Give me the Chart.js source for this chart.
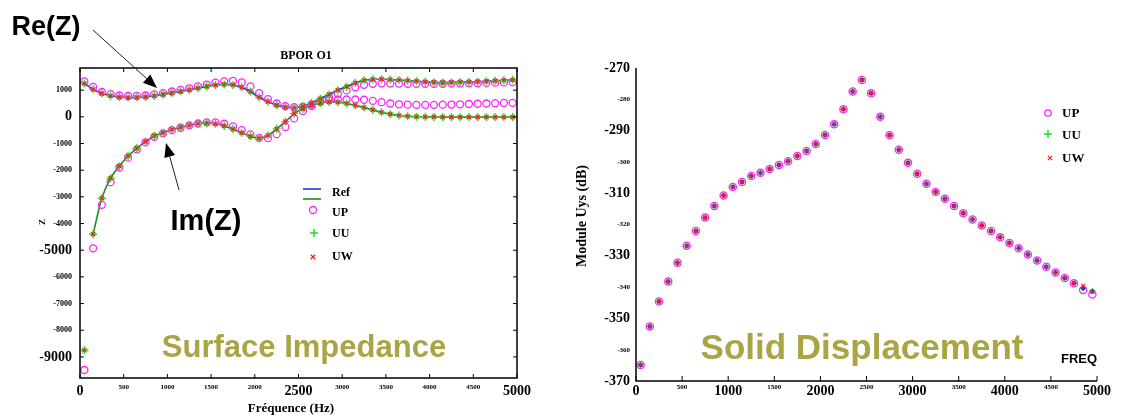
<!DOCTYPE html>
<html><head><meta charset="utf-8">
<script src="https://cdn.jsdelivr.net/npm/chart.js@4.4.1/dist/chart.umd.min.js"></script>
<style>
html,body{margin:0;padding:0;background:#fff;}
#wrap{position:relative;width:1136px;height:417px;overflow:hidden;background:#fff;}
canvas{position:absolute;top:0;}
.t{position:absolute;white-space:nowrap;line-height:1;transform:translate(-50%,-50%);}
.serif{font-family:"Liberation Serif","DejaVu Serif",serif;font-weight:bold;color:#000;}
.sans{font-family:"Liberation Sans",Arial,sans-serif;color:#000;}
</style></head><body>
<div id="wrap">
<canvas id="c1" width="560" height="417" style="left:0px"></canvas>
<canvas id="c2" width="576" height="417" style="left:560px"></canvas>
<div class="t sans" style="left:46px;top:26px;font-size:27px;font-weight:bold;">Re(Z)</div>
<div class="t sans" style="left:206px;top:220px;font-size:29px;font-weight:bold;">Im(Z)</div>
<div class="t serif" style="left:306px;top:55px;font-size:12px;">BPOR O1</div>
<div class="t serif" style="left:291px;top:407px;font-size:13px;">Fréquence (Hz)</div>
<div class="t serif" style="left:42px;top:222px;font-size:9px;transform:translate(-50%,-50%) rotate(-90deg);">Z</div>
<div class="t serif" style="left:582px;top:216px;font-size:14px;transform:translate(-50%,-50%) rotate(-90deg);">Module Uys (dB)</div>
<div class="t sans" style="left:1079px;top:358px;font-size:13px;font-weight:bold;">FREQ</div>
<div class="t sans" style="left:304px;top:346px;font-size:31px;font-weight:bold;color:#aaa444;">Surface Impedance</div>
<div class="t sans" style="left:862px;top:346px;font-size:35px;font-weight:bold;color:#aaa444;">Solid Displacement</div>
</div>
<script>
// ---------- DATA ----------
const freq = [50,150,250,350,450,550,650,750,850,950,
  1050,1150,1250,1350,1450,1550,1650,1750,1850,1950,
  2050,2150,2250,2350,2450,2550,2650,2750,2850,2950,
  3050,3150,3250,3350,3450,3550,3650,3750,3850,3950,
  4050,4150,4250,4350,4450,4550,4650,4750,4850,4950];

// Surface impedance, reference (Re, Im)
const reRef = [1250,1030,880,790,740,720,730,745,790,840,
  900,955,1015,1080,1140,1190,1215,1195,1105,940,
  735,570,440,365,340,400,520,680,840,1000,
  1130,1270,1370,1405,1410,1400,1380,1360,1335,1310,
  1290,1275,1285,1295,1305,1315,1330,1350,1370,1385];
const imRef = [-8750,-4400,-3050,-2300,-1850,-1470,-1180,-930,-720,-600,
  -475,-395,-315,-250,-230,-260,-340,-460,-600,-730,
  -810,-700,-450,-180,120,300,430,520,560,550,
  500,430,350,260,170,100,50,20,5,0,
  -5,-10,-10,-10,-10,-10,-10,-10,-10,-10];
// UP formulation
const reUP = [1330,1120,930,850,800,780,785,800,840,890,
  950,1010,1070,1140,1210,1280,1330,1350,1290,1140,
  890,660,500,400,360,380,460,580,720,860,
  990,1110,1200,1240,1250,1250,1245,1240,1240,1240,
  1240,1240,1245,1250,1255,1260,1270,1280,1290,1300];
const imUP = [-9490,-4930,-3300,-2450,-1900,-1530,-1220,-960,-750,-620,
  -500,-410,-320,-250,-210,-210,-260,-360,-500,-660,
  -790,-800,-650,-380,-60,220,400,560,620,650,
  650,650,640,600,550,500,470,455,450,450,
  450,455,460,470,480,490,500,510,520,525];
// UU and UW formulations coincide with the reference
const reUU = reRef.slice(), imUU = imRef.slice();
const reUW = reRef.slice(), imUW = imRef.slice();

// Solid displacement (dB)
const uysUU = [-364.9,-352.6,-344.6,-338.2,-332.2,-326.8,-322.1,-317.8,-314.1,-310.7,
  -308.0,-306.4,-304.5,-303.5,-302.3,-301.0,-299.8,-298.1,-296.5,-294.3,
  -291.4,-288.0,-283.2,-277.5,-273.8,-278.1,-285.6,-291.5,-296.1,-300.3,
  -303.8,-307.0,-309.6,-311.8,-314.1,-316.4,-318.4,-320.3,-322.1,-324.1,
  -325.9,-327.6,-329.6,-331.5,-333.5,-335.3,-337.1,-338.8,-340.4,-341.3];
const uysUP = [-364.9,-352.6,-344.6,-338.2,-332.2,-326.8,-322.1,-317.8,-314.1,-310.7,
  -308.0,-306.4,-304.5,-303.5,-302.3,-301.0,-299.8,-298.1,-296.5,-294.3,
  -291.4,-288.0,-283.2,-277.5,-273.8,-278.1,-285.6,-291.5,-296.1,-300.3,
  -303.8,-307.0,-309.6,-311.8,-314.1,-316.4,-318.4,-320.3,-322.1,-324.1,
  -325.9,-327.6,-329.6,-331.5,-333.5,-335.3,-337.1,-338.8,-340.9,-342.4];
const uysUW = [-364.9,-352.6,-344.6,-338.2,-332.2,-326.8,-322.1,-317.8,-314.1,-310.7,
  -308.0,-306.4,-304.5,-303.5,-302.3,-301.0,-299.8,-298.1,-296.5,-294.3,
  -291.4,-288.0,-283.2,-277.5,-273.8,-278.1,-285.6,-291.5,-296.1,-300.3,
  -303.8,-307.0,-309.6,-311.8,-314.1,-316.4,-318.4,-320.3,-322.1,-324.1,
  -325.9,-327.6,-329.6,-331.5,-333.5,-335.3,-337.1,-338.8,-339.6,-341.6];

// Tick labels
const leftXTicks = [0,500,1000,1500,2000,2500,3000,3500,4000,4500,5000];
const leftXBig = [0,2500,5000];
const leftYTicks = [1000,0,-1000,-2000,-3000,-4000,-5000,-6000,-7000,-8000,-9000];
const leftYBig = [0,-5000,-9000];
const rightXTicks = [0,500,1000,1500,2000,2500,3000,3500,4000,4500,5000];
const rightXBig = [0,1000,2000,3000,4000,5000];
const rightYTicks = [-270,-280,-290,-300,-310,-320,-330,-340,-350,-360,-370];
const rightYBig = [-270,-290,-310,-330,-350,-370];

// ---------- HELPERS ----------
const SERIF = '"Liberation Serif","DejaVu Serif",serif';
const C_BLUE = '#2233dd', C_GREENL = '#1e8c1e', C_GREEN = '#22dd22', C_RED = '#ee2222', C_MAG = '#ff22ff';
const pts = (xs, ys) => xs.map((x, i) => ({x: x, y: ys[i]}));
const setTicks = arr => s => { s.ticks = arr.map(v => ({value: v})); };
const fontBy = (bigs, big, small) => ctx => ({family: SERIF, weight: 'bold', size: (ctx.tick && bigs.includes(ctx.tick.value)) ? big : small});
const noGrid = {display: false, drawTicks: false, tickLength: 0};

function mark(ctx, style, x, y, r, color, lw, fill) {
  ctx.save();
  ctx.strokeStyle = color; ctx.lineWidth = lw; ctx.beginPath();
  if (style === 'circle') { ctx.arc(x, y, r, 0, Math.PI * 2); if (fill) { ctx.fillStyle = fill; ctx.fill(); } }
  else if (style === 'cross') { ctx.moveTo(x - r, y); ctx.lineTo(x + r, y); ctx.moveTo(x, y - r); ctx.lineTo(x, y + r); }
  else { const d = r * 0.7071; ctx.moveTo(x - d, y - d); ctx.lineTo(x + d, y + d); ctx.moveTo(x + d, y - d); ctx.lineTo(x - d, y + d); }
  ctx.stroke(); ctx.restore();
}
function arrow(ctx, x1, y1, x2, y2) {
  const ang = Math.atan2(y2 - y1, x2 - x1), L = 14, W = 5.5;
  const bx = x2 - L * Math.cos(ang), by = y2 - L * Math.sin(ang);
  ctx.save();
  ctx.strokeStyle = '#222'; ctx.lineWidth = 1;
  ctx.beginPath(); ctx.moveTo(x1, y1); ctx.lineTo(bx, by); ctx.stroke();
  ctx.fillStyle = '#000'; ctx.beginPath(); ctx.moveTo(x2, y2);
  ctx.lineTo(bx - W * Math.sin(ang), by + W * Math.cos(ang));
  ctx.lineTo(bx + W * Math.sin(ang), by - W * Math.cos(ang));
  ctx.closePath(); ctx.fill(); ctx.restore();
}
function legendText(ctx, txt, x, y, size) {
  ctx.save(); ctx.fillStyle = '#000'; ctx.font = 'bold ' + size + 'px ' + SERIF;
  ctx.textAlign = 'left'; ctx.textBaseline = 'middle'; ctx.fillText(txt, x, y); ctx.restore();
}

const leftDecor = {
  id: 'leftDecor',
  afterDraw(chart) {
    const ctx = chart.ctx, a = chart.chartArea, xs = chart.scales.x, ys = chart.scales.y;
    ctx.save();
    ctx.strokeStyle = '#000'; ctx.lineWidth = 1.5;
    ctx.strokeRect(a.left, a.top, a.right - a.left, a.bottom - a.top);
    ctx.lineWidth = 1; ctx.beginPath();
    xs.ticks.forEach(t => { const p = xs.getPixelForValue(t.value); ctx.moveTo(p, a.bottom); ctx.lineTo(p, a.bottom - 4); ctx.moveTo(p, a.top); ctx.lineTo(p, a.top + 4); });
    ys.ticks.forEach(t => { const p = ys.getPixelForValue(t.value); ctx.moveTo(a.left, p); ctx.lineTo(a.left + 4, p); ctx.moveTo(a.right, p); ctx.lineTo(a.right - 4, p); });
    ctx.stroke(); ctx.restore();
    arrow(ctx, 93, 30, 157, 88);
    arrow(ctx, 179, 190, 166, 143);
    // legend
    ctx.save(); ctx.lineWidth = 1.6;
    ctx.strokeStyle = C_BLUE; ctx.beginPath(); ctx.moveTo(303, 189); ctx.lineTo(321, 189); ctx.stroke();
    ctx.strokeStyle = C_GREENL; ctx.beginPath(); ctx.moveTo(303, 199); ctx.lineTo(321, 199); ctx.stroke();
    ctx.restore();
    legendText(ctx, 'Ref', 332, 193, 12);
    mark(ctx, 'circle', 313, 210, 3.5, C_MAG, 1.3);
    legendText(ctx, 'UP', 332, 213, 12);
    mark(ctx, 'cross', 314, 233, 4, C_GREEN, 1.5);
    legendText(ctx, 'UU', 332, 234, 12);
    mark(ctx, 'crossRot', 313, 257, 3.2, C_RED, 1.3);
    legendText(ctx, 'UW', 332, 257, 12);
  }
};

const rightDecor = {
  id: 'rightDecor',
  afterDraw(chart) {
    const ctx = chart.ctx, a = chart.chartArea, xs = chart.scales.x;
    ctx.save();
    ctx.strokeStyle = '#000'; ctx.lineWidth = 1.5;
    ctx.beginPath(); ctx.moveTo(a.left, a.top); ctx.lineTo(a.left, a.bottom); ctx.lineTo(a.right, a.bottom); ctx.stroke();
    ctx.lineWidth = 1; ctx.beginPath();
    xs.ticks.forEach(t => { const p = xs.getPixelForValue(t.value); ctx.moveTo(p, a.bottom); ctx.lineTo(p, a.bottom - 5); });
    ctx.stroke(); ctx.restore();
    mark(ctx, 'circle', 488, 113, 3.2, C_MAG, 1.3);
    legendText(ctx, 'UP', 502, 114, 13);
    mark(ctx, 'cross', 488, 134, 4, C_GREEN, 1.5);
    legendText(ctx, 'UU', 502, 136, 13);
    mark(ctx, 'crossRot', 490, 158, 3, C_RED, 1.3);
    legendText(ctx, 'UW', 502, 159, 13);
  }
};

const common = {
  responsive: false, animation: false, events: [],
  plugins: {legend: {display: false}, tooltip: {enabled: false}}
};

// ---------- LEFT CHART ----------
new Chart(document.getElementById('c1'), {
  type: 'scatter',
  data: {datasets: [
    {label: 'UW Re', data: pts(freq, reUW), pointStyle: 'crossRot', pointRadius: 3, pointBorderWidth: 1.3, borderColor: C_RED, backgroundColor: C_RED, order: 1},
    {label: 'UW Im', data: pts(freq, imUW), pointStyle: 'crossRot', pointRadius: 3, pointBorderWidth: 1.3, borderColor: C_RED, backgroundColor: C_RED, order: 1},
    {label: 'UU Re', data: pts(freq, reUU), pointStyle: 'cross', pointRadius: 4, pointBorderWidth: 1.4, borderColor: C_GREEN, backgroundColor: C_GREEN, order: 2},
    {label: 'UU Im', data: pts(freq, imUU), pointStyle: 'cross', pointRadius: 4, pointBorderWidth: 1.4, borderColor: C_GREEN, backgroundColor: C_GREEN, order: 2},
    {label: 'UP Re', data: pts(freq, reUP), pointStyle: 'circle', pointRadius: 3.5, pointBorderWidth: 1.3, borderColor: C_MAG, backgroundColor: 'rgba(0,0,0,0)', order: 3},
    {label: 'UP Im', data: pts(freq, imUP), pointStyle: 'circle', pointRadius: 3.5, pointBorderWidth: 1.3, borderColor: C_MAG, backgroundColor: 'rgba(0,0,0,0)', order: 3},
    {label: 'Ref Re', data: pts(freq, reRef), showLine: true, borderColor: C_BLUE, borderWidth: 1.6, pointRadius: 0, tension: 0.3, order: 5},
    {label: 'Ref Im', data: pts(freq.slice(1), imRef.slice(1)), showLine: true, borderColor: C_GREENL, borderWidth: 1.6, pointRadius: 0, tension: 0.3, order: 5}
  ]},
  options: Object.assign({}, common, {
    layout: {padding: {left: 0, right: 43, top: 68, bottom: 0}},
    scales: {
      x: {type: 'linear', min: 0, max: 5000, afterBuildTicks: setTicks(leftXTicks), afterFit: s => { s.height = 39; },
          grid: noGrid, border: {display: false},
          ticks: {padding: 5, maxRotation: 0, autoSkip: false, color: '#000', callback: v => String(v), font: fontBy(leftXBig, 14, 7)}},
      y: {type: 'linear', min: -9790, max: 1830, afterBuildTicks: setTicks(leftYTicks), afterFit: s => { s.width = 80; },
          grid: noGrid, border: {display: false},
          ticks: {padding: 8, autoSkip: false, color: '#000', callback: v => String(v), font: fontBy(leftYBig, 14, 8)}}
    }
  }),
  plugins: [leftDecor]
});

// ---------- RIGHT CHART ----------
new Chart(document.getElementById('c2'), {
  type: 'scatter',
  data: {datasets: [
    {label: 'UW', data: pts(freq, uysUW), pointStyle: 'crossRot', pointRadius: 2.6, pointBorderWidth: 1.2, borderColor: C_RED, backgroundColor: C_RED, order: 1},
    {label: 'Ref', data: pts(freq, uysUU), pointStyle: 'circle', pointRadius: 2.2, pointBorderWidth: 0, borderColor: C_BLUE, backgroundColor: '#2a2aff', order: 2},
    {label: 'UU', data: pts(freq, uysUU), pointStyle: 'cross', pointRadius: 3.2, pointBorderWidth: 1.3, borderColor: C_GREEN, backgroundColor: C_GREEN, order: 3},
    {label: 'UP', data: pts(freq, uysUP), pointStyle: 'circle', pointRadius: 3.6, pointBorderWidth: 1.3, borderColor: C_MAG, backgroundColor: 'rgba(0,0,0,0)', order: 4}
  ]},
  options: Object.assign({}, common, {
    layout: {padding: {left: 0, right: 39, top: 68, bottom: 0}},
    scales: {
      x: {type: 'linear', min: 0, max: 5000, afterBuildTicks: setTicks(rightXTicks), afterFit: s => { s.height = 36; },
          grid: noGrid, border: {display: false},
          ticks: {padding: 2, maxRotation: 0, autoSkip: false, color: '#000', callback: v => String(v), font: fontBy(rightXBig, 14, 7)}},
      y: {type: 'linear', min: -370, max: -270, afterBuildTicks: setTicks(rightYTicks), afterFit: s => { s.width = 76; },
          grid: noGrid, border: {display: false},
          ticks: {padding: 6, autoSkip: false, color: '#000', callback: v => String(v), font: fontBy(rightYBig, 14, 7)}}
    }
  }),
  plugins: [rightDecor]
});
</script>
</body></html>
